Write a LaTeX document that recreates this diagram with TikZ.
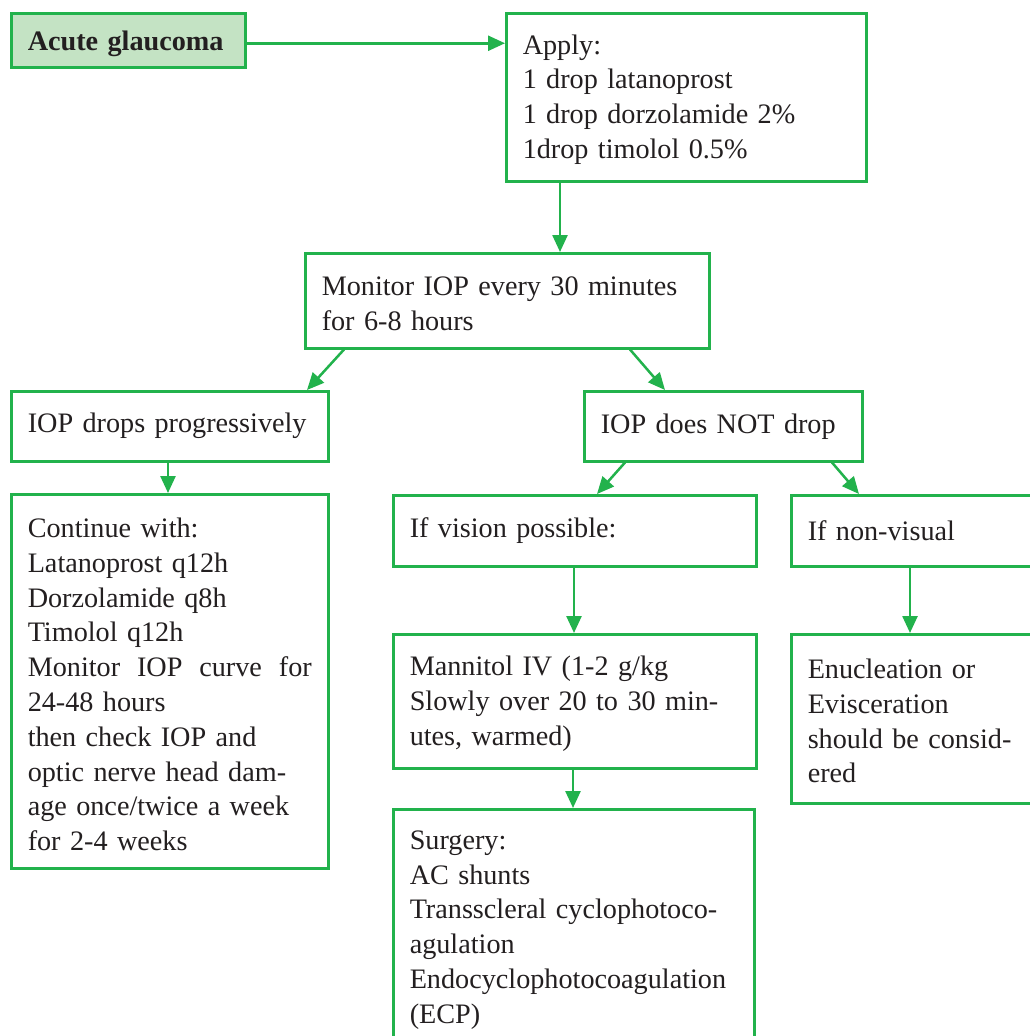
\documentclass[tikz,border=0pt]{standalone}
\usepackage{fontspec}
\setmainfont{Liberation Serif}
\usetikzlibrary{arrows.meta}
\setlength\parindent{0pt}
\hyphenpenalty=10000
\definecolor{gline}{HTML}{22B24C}
\definecolor{gfill}{HTML}{C4E3C4}
\definecolor{txt}{HTML}{231F20}
\newcommand{\bodyfont}{\fontsize{28.2}{34.8}\selectfont}
\begin{document}
\begin{tikzpicture}[x=1pt,y=-1pt,
  box/.style={draw=gline, line width=2.5pt, anchor=north west, align=left,
    inner ysep=0pt, inner xsep=16.5pt, text=txt, font=\bodyfont},
  arr/.style={draw=gline, line width=2.5pt, -{Triangle[length=17pt,width=15pt]}}]
\fill[white] (0,0) rectangle (1030,1036);
\useasboundingbox (0,0) rectangle (1030,1036);
\clip (0,0) rectangle (1030,1036);

\node[box, fill=gfill, font=\bodyfont\bfseries, minimum width=234pt, minimum height=54pt, text width=201pt] (acute) at (10,12) {\smash{\raisebox{-10pt}{Acute glaucoma}}};

\node[box, minimum width=360pt, minimum height=168pt, text width=327pt] (apply) at (505,12)
  {\rule{0pt}{24pt}Apply:\\1 drop latanoprost\\1 drop dorzolamide 2\%\\1drop timolol 0.5\%};

\node[box, minimum width=404pt, minimum height=95pt, text width=371pt] (monitor) at (304,252)
  {\rule{0pt}{24pt}\mbox{Monitor IOP every 30 minutes}\\for 6-8 hours};

\node[box, minimum width=317pt, minimum height=70pt, text width=284pt] (drops) at (10,390)
  {\mbox{IOP drops progressively}};

\node[box, minimum width=278pt, minimum height=70pt, text width=245pt] (notdrop) at (583,390)
  {\mbox{IOP does NOT drop}};

\node[box, minimum width=317pt, minimum height=374pt, text width=284pt] (cont) at (10,493)
  {\rule{0pt}{26pt}Continue with:\\Latanoprost q12h\\Dorzolamide q8h\\Timolol q12h\\Monitor\hfill IOP\hfill curve\hfill for\\24-48 hours\\then check IOP and\\\mbox{optic nerve head dam-}\\\mbox{age once/twice a week}\\for 2-4 weeks};

\node[box, minimum width=363pt, minimum height=71pt, text width=330pt] (vision) at (392,494)
  {If vision possible:};

\node[box, minimum width=300pt, minimum height=71pt, text width=267pt] (nonvis) at (790,494)
  {If non-visual};

\node[box, minimum width=363pt, minimum height=134pt, text width=330pt] (mannitol) at (392,633)
  {\rule{0pt}{24pt}Mannitol IV (1-2 g/kg\\\mbox{Slowly over 20 to 30 min-}\\utes, warmed)};

\node[box, minimum width=300pt, minimum height=169pt, text width=267pt] (enuc) at (790,633)
  {\rule{0pt}{24pt}Enucleation or\\Evisceration\\\mbox{should be consid-}\\ered};

\node[box, minimum width=361pt, minimum height=236pt, text width=328pt] (surgery) at (392,808)
  {\rule{0pt}{24pt}Surgery:\\AC shunts\\\mbox{Transscleral cyclophotoco-}\\agulation\\\mbox{Endocyclophotocoagulation}\\(ECP)};

\draw[arr] ([yshift=-3pt]acute.east) -- ([yshift=-3pt]acute.east -| apply.west);
\draw[arr] ([xshift=55pt]apply.south west) -- ([xshift=55pt]apply.south west |- monitor.north);
\draw[arr] ([xshift=40pt]monitor.south west) -- ([xshift=297pt]drops.north west);
\draw[arr] ([xshift=326pt]monitor.south west) -- ([xshift=82pt]notdrop.north west);
\draw[arr] ([xshift=158pt]drops.south west) -- ([xshift=158pt]drops.south west |- cont.north);
\draw[arr] ([xshift=42pt]notdrop.south west) -- ([xshift=205pt]vision.north west);
\draw[arr] ([xshift=249pt]notdrop.south west) -- ([xshift=69pt]nonvis.north west);
\draw[arr] ([xshift=182pt]vision.south west) -- ([xshift=182pt]vision.south west |- mannitol.north);
\draw[arr] ([xshift=120pt]nonvis.south west) -- ([xshift=120pt]nonvis.south west |- enuc.north);
\draw[arr] ([xshift=181pt]mannitol.south west) -- ([xshift=181pt]mannitol.south west |- surgery.north);
\end{tikzpicture}
\end{document}
